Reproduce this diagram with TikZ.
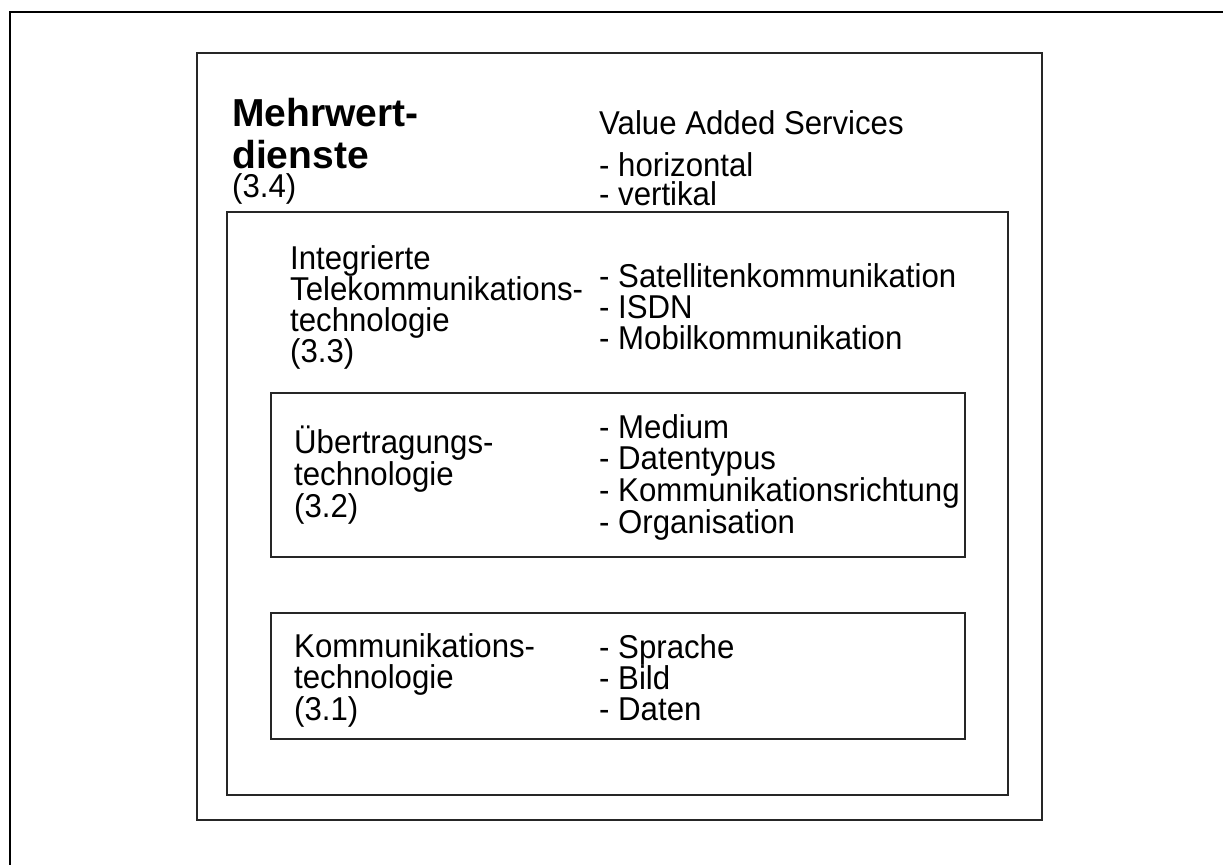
\documentclass[tikz,border=0pt]{standalone}
\usepackage{fontspec}
\setmainfont[FakeStretch=0.945]{Liberation Sans}
\newfontfamily\headfont{Liberation Sans}
\begin{document}
\begin{tikzpicture}[x=1pt,y=-1pt,
  txt/.style={anchor=base west, inner sep=0pt, font=\fontsize{33}{34}\selectfont},
  headtxt/.style={anchor=base west, inner sep=0pt, font=\headfont\bfseries\fontsize{39}{40}\selectfont},
  layer/.style={draw=black!85, line width=1.1pt},
  frameline/.style={draw=black, line width=2.2pt}]
\useasboundingbox (0,0) rectangle (1223,865);

% cut-off outer frame: only top and left edges
\coordinate (ftl) at (10,12);
\coordinate (ftr) at (1223,12);
\coordinate (fbl) at (10,865);
\draw[frameline] (ftr) -- (ftl) -- (fbl);

% nested layers
\draw[layer] (197,53) rectangle (1042,820);
\draw[layer] (227,212) rectangle (1008,795);
\draw[layer] (271,393) rectangle (965,557);
\draw[layer] (271,613) rectangle (965,739);

% layer 3.4
\node[headtxt] (m1) at (232,126) {Mehrwert-};
\node[headtxt] (m2) at (232,168) {dienste};
\node[txt] (m3) at (232,197) {(3.4)};
\node[txt] (v1) at (599,134) {Value Added Services};
\node[txt] (v2) at (599,176) {- horizontal};
\node[txt] (v3) at (599,205) {- vertikal};

% layer 3.3
\foreach \t [count=\i] in {Integrierte, Telekommunikations-, technologie, (3.3)}
  \node[txt] (a\i) at (290,238+31*\i) {\t};
\foreach \t [count=\i] in {- Satellitenkommunikation, - ISDN, - Mobilkommunikation}
  \node[txt] (b\i) at (599,256+31*\i) {\t};

% layer 3.2
\foreach \t [count=\i] in {Übertragungs-, technologie, (3.2)}
  \node[txt] (c\i) at (294,421+32*\i) {\t};
\foreach \t [count=\i] in {- Medium, - Datentypus, - Kommunikationsrichtung, - Organisation}
  \node[txt] (d\i) at (599,406.5+31.7*\i) {\t};

% layer 3.1
\foreach \t [count=\i] in {Kommunikations-, technologie, (3.1)}
  \node[txt] (e\i) at (294,625.5+31.5*\i) {\t};
\foreach \t [count=\i] in {- Sprache, - Bild, - Daten}
  \node[txt] (f\i) at (599,627+31*\i) {\t};
\end{tikzpicture}
\end{document}
